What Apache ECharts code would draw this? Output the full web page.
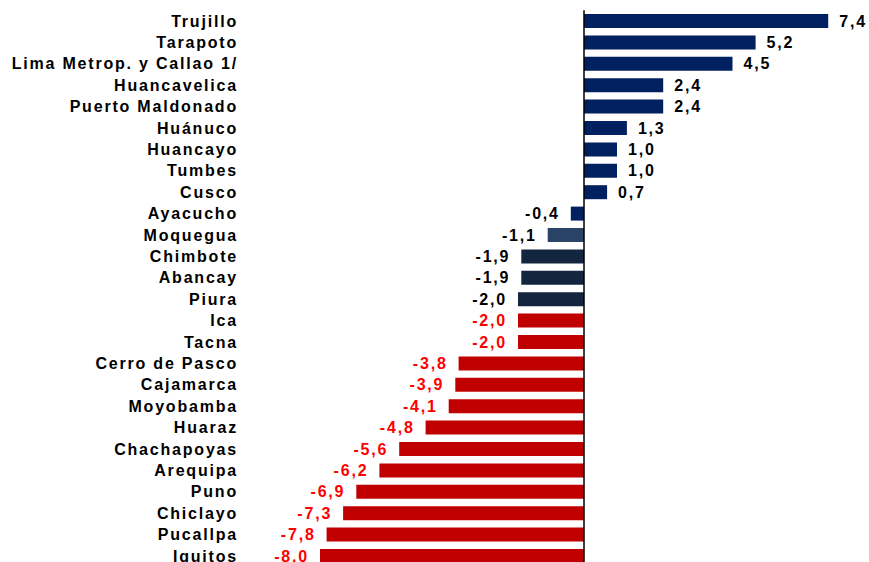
<!DOCTYPE html>
<html>
<head>
<meta charset="utf-8">
<script src="https://cdn.jsdelivr.net/npm/echarts@6/dist/echarts.min.js"></script>
<style>
  html, body { margin: 0; padding: 0; background: #fff; }
  #chart { width: 869px; height: 562px; letter-spacing: 1.8px; }
</style>
</head>
<body>
<div id="chart"></div>
<script>
const categories = [
  'Trujillo', 'Tarapoto', 'Lima Metrop. y Callao 1/', 'Huancavelica', 'Puerto Maldonado',
  'Huánuco', 'Huancayo', 'Tumbes', 'Cusco', 'Ayacucho', 'Moquegua', 'Chimbote', 'Abancay',
  'Piura', 'Ica', 'Tacna', 'Cerro de Pasco', 'Cajamarca', 'Moyobamba', 'Huaraz',
  'Chachapoyas', 'Arequipa', 'Puno', 'Chiclayo', 'Pucallpa', 'Iquitos'
];
const values = [
  7.4, 5.2, 4.5, 2.4, 2.4, 1.3, 1.0, 1.0, 0.7, -0.4, -1.1, -1.9, -1.9,
  -2.0, -2.0, -2.0, -3.8, -3.9, -4.1, -4.8, -5.6, -6.2, -6.9, -7.3, -7.8, -8.0
];

function barColor(i) {
  if (i <= 9) return '#002060';
  if (i === 10) return '#2a4468';
  if (i <= 13) return '#13253f';
  return '#c00000';
}
function labelColor(i) {
  return i >= 14 ? '#ff0000' : '#000000';
}

const seriesData = values.map((v, i) => ({
  value: v,
  itemStyle: { color: barColor(i) },
  label: {
    position: v >= 0 ? 'right' : 'left',
    color: labelColor(i)
  }
}));

const chart = echarts.init(document.getElementById('chart'), null, { renderer: 'svg' });
chart.setOption({
  animation: false,
  backgroundColor: '#ffffff',
  grid: { left: 320, width: 528, top: 10.3, height: 556.4, containLabel: false, outerBoundsMode: 'none' },
  xAxis: {
    type: 'value', min: -8, max: 8, interval: 2,
    show: false
  },
  yAxis: {
    type: 'category', data: categories, inverse: true,
    axisLine: { show: false }, axisTick: { show: false },
    axisLabel: {
      margin: 82,
      fontFamily: 'Liberation Sans, Arial, sans-serif',
      fontWeight: 'bold', fontSize: 16, color: '#000'
    }
  },
  series: [{
    type: 'bar',
    data: seriesData,
    barWidth: 14,
    label: {
      show: true,
      distance: 11,
      fontFamily: 'Liberation Sans, Arial, sans-serif',
      fontWeight: 'bold', fontSize: 16,
      formatter: p => p.value.toFixed(1).replace('.', ',')
    },
    markLine: {
      silent: true, symbol: 'none',
      label: { show: false },
      lineStyle: { color: '#000', width: 1.5, type: 'solid' },
      data: [{ xAxis: 0 }]
    }
  }]
});
</script>
</body>
</html>
